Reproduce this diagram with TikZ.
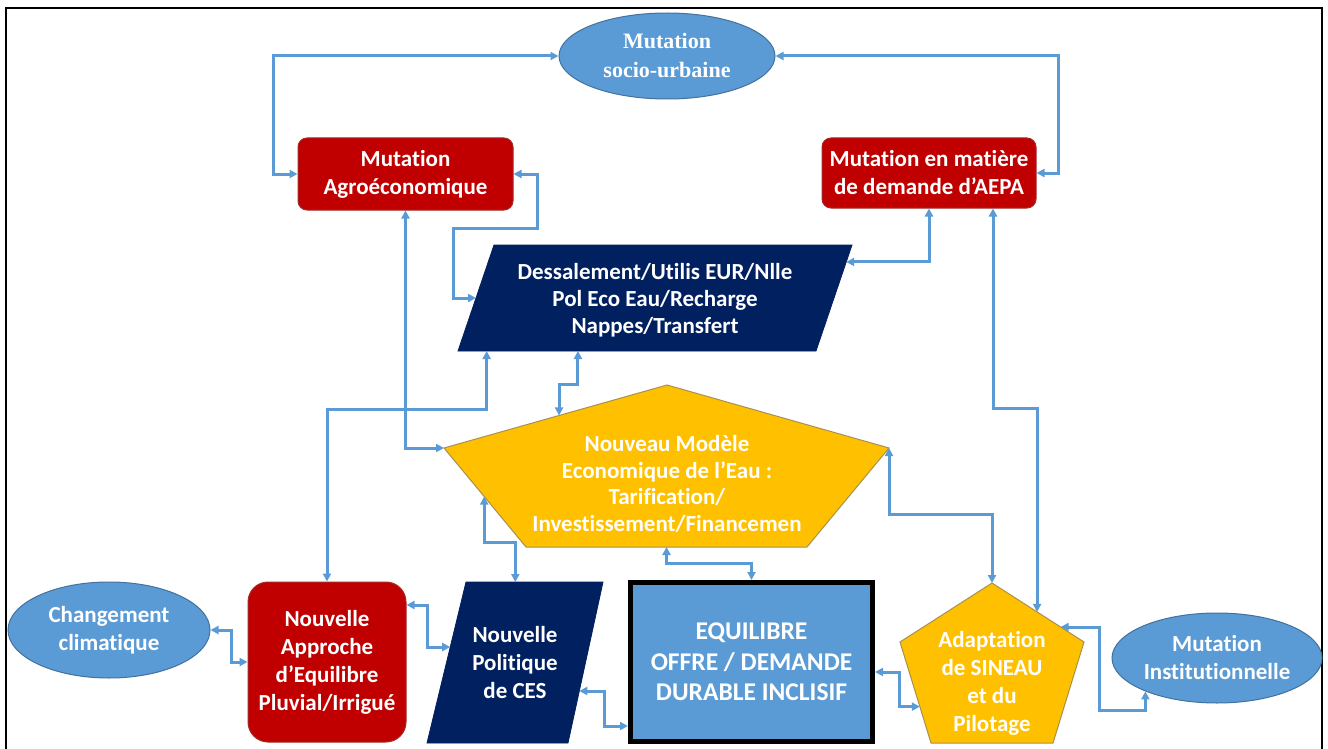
\documentclass[tikz,border=0pt]{standalone}
\usepackage{fontspec}
\setmainfont{Carlito}[Ligatures=NoCommon]
\newfontfamily\titleserif{Liberation Serif}
\usetikzlibrary{arrows.meta,calc,shapes.geometric}

\definecolor{linkblue}{HTML}{5B9BD5}
\definecolor{ovalblue}{HTML}{5B9BD5}
\definecolor{ovaledge}{HTML}{41719C}
\definecolor{deepred}{HTML}{C00000}
\definecolor{rededge}{HTML}{A52A2A}
\definecolor{navy}{HTML}{002060}
\definecolor{amber}{HTML}{FFC000}
\definecolor{amberedge}{HTML}{A89050}

\begin{document}
\begin{tikzpicture}[x=1pt,y=-1pt,
  >={Triangle[length=8pt,width=8pt]},
  link/.style={draw=linkblue,line width=3pt,<->},
  whitetext/.style={text=white,font=\bfseries\fontsize{23}{28}\selectfont,align=center,inner sep=0pt},
  oval/.style={ellipse,fill=ovalblue,draw=ovaledge,line width=1pt,inner sep=0pt},
  redbox/.style={rectangle,rounded corners=9pt,fill=deepred,draw=rededge,line width=1pt,inner sep=0pt},
  navyshape/.style={fill=navy,draw=navy,line width=0.8pt},
  ambershape/.style={fill=amber,draw=amberedge,line width=1pt},
]
\useasboundingbox (0,0) rectangle (1328,749);
\fill[white] (0,0) rectangle (1328,749);

% outer frame (open at the bottom)
\draw[line width=2.5pt,black] (6,749) -- (6,8) -- (1322,8) -- (1322,749);

% ---------- top row ----------
\node[oval,minimum width=216pt,minimum height=86pt,
      text=white,align=center,font={\titleserif\bfseries\fontsize{22}{29}\selectfont}]
  (socio) at (667,56) {Mutation\\socio-urbaine};

\node[redbox,whitetext,minimum width=215pt,minimum height=72pt] (agro) at (405.5,174)
  {Mutation\\Agroéconomique};
\node[redbox,whitetext,minimum width=214pt,minimum height=70pt] (aepa) at (929,173)
  {Mutation en matière\\de demande d’AEPA};

% ---------- desalination parallelogram ----------
\coordinate (dsBL) at (458,351);
\coordinate (dsTL) at (494,245);
\coordinate (dsTR) at (852,245);
\coordinate (dsBR) at (816,351);
\draw[navyshape] (dsBL) -- (dsTL) -- (dsTR) -- (dsBR) -- cycle;
\node[whitetext,font=\bfseries\fontsize{23}{27}\selectfont] (dess) at (655,300)
  {Dessalement/Utilis EUR/Nlle\\Pol Eco Eau/Recharge\\Nappes/Transfert};

% ---------- economic model pentagon ----------
\coordinate (nmT)  at (667,385);
\coordinate (nmL)  at (444,448);
\coordinate (nmR)  at (889,448);
\coordinate (nmBR) at (807,547);
\coordinate (nmBL) at (526,547);
\draw[ambershape] (nmT) -- (nmR) -- (nmBR) -- (nmBL) -- (nmL) -- cycle;
\node[whitetext,font=\bfseries\fontsize{23}{26.5}\selectfont] (model) at (667,484)
  {Nouveau Modèle\\Economique de l’Eau :\\Tarification/\\Investissement/Financemen};

% ---------- bottom row ----------
\node[oval,whitetext,minimum width=202pt,minimum height=96pt] (chg) at (109,630)
  {Changement\\climatique};

\node[redbox,whitetext,rounded corners=20pt,minimum width=158pt,minimum height=160pt] (apr) at (327,662)
  {Nouvelle\\Approche\\d’Equilibre\\Pluvial/Irrigué};

\coordinate (polTL) at (466,582);
\coordinate (polTR) at (603,582);
\coordinate (polBR) at (568,743);
\coordinate (polBL) at (427,743);
\draw[navyshape] (polBL) -- (polTL) -- (polTR) -- (polBR) -- cycle;
\node[whitetext] (pol) at (515,663) {Nouvelle\\Politique\\de CES};

\node[draw=black,line width=5pt,fill=ovalblue,minimum width=242pt,minimum height=159pt,
      text=white,align=center,inner sep=0pt,font=\bfseries\fontsize{25.5}{30.5}\selectfont]
  (eq) at (751.5,662) {EQUILIBRE\\OFFRE / DEMANDE\\DURABLE INCLISIF};

\coordinate (adT)  at (992,583);
\coordinate (adL)  at (900,642);
\coordinate (adR)  at (1084,642);
\coordinate (adBR) at (1053,743);
\coordinate (adBL) at (931,743);
\draw[ambershape] (adT) -- (adR) -- (adBR) -- (adBL) -- (adL) -- cycle;
\node[whitetext] (adapt) at (992,683) {Adaptation\\de SINEAU\\et du\\Pilotage};

\node[oval,whitetext,minimum width=210pt,minimum height=90pt] (inst) at (1217,658)
  {Mutation\\Institutionnelle};

% ---------- attachment points on the polygon sides ----------
\coordinate (dsW)  at ($(dsBL)!0.5!(dsTL)$);
\coordinate (dsE)  at ($(dsBR)!0.84!(dsTR)$);
\coordinate (dsB1) at ($(dsBL)!0.08!(dsBR)$);
\coordinate (dsB2) at ($(dsBL)!0.335!(dsBR)$);
\coordinate (nmUL) at ($(nmL)!0.516!(nmT)$);
\coordinate (nmLL) at ($(nmL)!0.49!(nmBL)$);
\coordinate (nmB)  at ($(nmBL)!0.5!(nmBR)$);
\coordinate (polN) at ($(polTL)!0.36!(polTR)$);
\coordinate (polW) at ($(polBL)!0.596!(polTL)$);
\coordinate (polE) at ($(polBR)!0.323!(polTR)$);
\coordinate (adNE) at ($(adT)!0.49!(adR)$);
\coordinate (adE)  at ($(adT)!0.746!(adR)$);
\coordinate (adSW) at ($(adL)!0.64!(adBL)$);

% ---------- connectors ----------
\draw[link] (socio.west) -- ++(-285,0) |- (agro.west);
\draw[link] (socio.east) -- ++(283,0) |- (aepa.east);
\draw[link] (agro.east) -- ++(24,0) -- ++(0,54) -- ++(-84,0) |- (dsW);
\draw[link] (aepa.south) |- (dsE);
\draw[link] ([xshift=64pt]aepa.south) -- ++(0,200) -| (adNE);
\draw[link] (agro.south) |- (nmL);
\draw[link] (apr.north) -- ++(0,-172) -| (dsB1);
\draw[link] (dsB2) -- ++(0,33) -| (nmUL);
\draw[link] (nmLL) -- ++(0,46) -| (polN);
\draw[link] (nmB) -- ++(0,16) -| (eq.north);
\draw[link] (nmR) -- ++(0,66) -| (adT);
\draw[link] (chg.east) -- ++(21,0) |- (apr.west);
\draw[link] ($(apr.east)+(0,-57)$) -- ++(21,0) |- (polW);
\draw[link] (polE) -- ++(25,0) |- ($(eq.west)+(0,64)$);
\draw[link] ($(eq.east)+(0,10)$) -- ++(24,0) |- (adSW);
\draw[link] (adE) -- ++(39,0) -- ++(0,83) -| (inst.205);
\end{tikzpicture}
\end{document}
